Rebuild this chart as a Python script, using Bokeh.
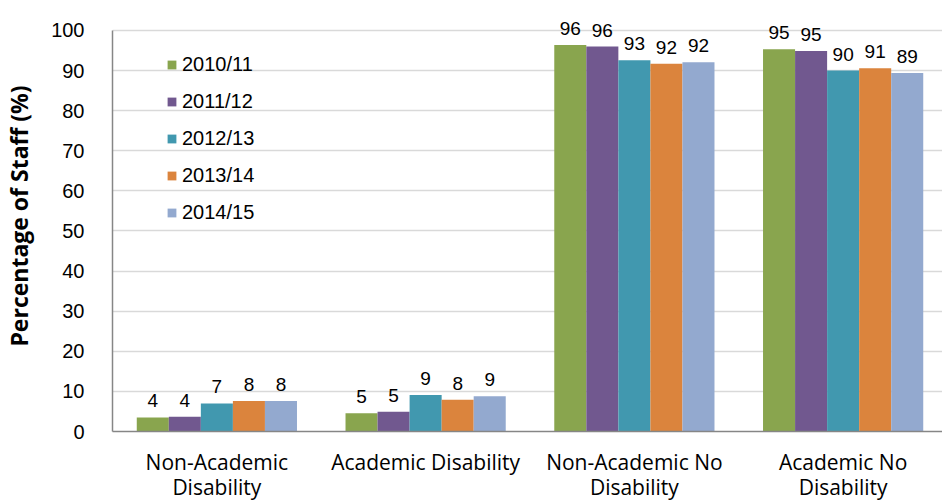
from bokeh.plotting import figure
from bokeh.models import ColumnDataSource, Range1d, FixedTicker, Legend, LegendItem
from bokeh.transform import dodge
from bokeh.core.properties import value
from bokeh.embed import file_html
from bokeh.resources import INLINE

categories = ["Non-Academic\nDisability", "Academic Disability",
              "Non-Academic No\nDisability", "Academic No\nDisability"]
years = ["2010/11", "2011/12", "2012/13", "2013/14", "2014/15"]
v2010 = [3.5, 4.55, 96.4, 95.3]
v2011 = [3.7, 4.9, 96.0, 94.9]
v2012 = [7.0, 9.1, 92.6, 90.0]
v2013 = [7.6, 7.9, 91.7, 90.6]
v2014 = [7.6, 8.8, 92.1, 89.4]
y_ticks = [0, 10, 20, 30, 40, 50, 60, 70, 80, 90, 100]
colors = ["#89A54E", "#71588F", "#4198AF", "#DB843D", "#93A9CF"]

series = [v2010, v2011, v2012, v2013, v2014]
centers = [i + 0.5 for i in range(len(categories))]

data = {"x": centers}
for yr, vals in zip(years, series):
    data[yr] = vals
    data[yr + "_lbl"] = [f"{v:.0f}" for v in vals]
src = ColumnDataSource(data)

p = figure(width=942, height=504, x_range=Range1d(0, 3.976), y_range=Range1d(0, 107.48),
           output_backend="svg", toolbar_location=None,
           min_border_left=111, min_border_right=0, min_border_top=0, min_border_bottom=73)
p.outline_line_color = None
p.background_fill_color = "white"
p.border_fill_color = "white"

bw = 0.1535
items = []
for i, yr in enumerate(years):
    off = (i - 2) * bw
    r = p.vbar(x=dodge("x", off, range=p.x_range), top=yr, width=bw, source=src,
               fill_color=colors[i], line_color=None)
    p.text(x=dodge("x", off, range=p.x_range), y=yr, text=yr + "_lbl", source=src,
           text_font=value("Liberation Sans"), text_font_size="19px", text_color="#000000",
           text_align="center", text_baseline="alphabetic", y_offset=-16.5)
    items.append(LegendItem(label=yr, renderers=[r]))

legend = Legend(items=items, location=(54, 207.5), padding=0, margin=0,
                background_fill_alpha=0, border_line_color=None,
                glyph_width=11, glyph_height=11, label_standoff=5,
                spacing=14, label_height=22,
                label_text_font="Liberation Sans", label_text_font_size="20px",
                label_text_color="#000000")
p.add_layout(legend, "center")

# y axis
p.yaxis.ticker = FixedTicker(ticks=y_ticks)
p.yaxis.bounds = (0, 100)
p.yaxis.major_label_text_font = "Liberation Sans"
p.yaxis.major_label_text_font_size = "20px"
p.yaxis.major_label_text_color = "#000000"
p.yaxis.axis_line_color = "#868686"
p.yaxis.axis_line_width = 1.5
p.yaxis.major_tick_line_color = None
p.yaxis.minor_tick_line_color = None
p.yaxis.major_tick_out = 0
p.yaxis.major_tick_in = 0
p.yaxis.major_label_standoff = 28
p.yaxis.axis_label = "Percentage of Staff (%)"
p.yaxis.axis_label_text_font = "Open Sans"
p.yaxis.axis_label_text_font_style = "bold"
p.yaxis.axis_label_text_font_size = "23px"
p.yaxis.axis_label_text_color = "#000000"
p.yaxis.axis_label_standoff = 13

# x axis
p.xaxis.ticker = FixedTicker(ticks=centers)
p.xaxis.major_label_overrides = {c: lab for c, lab in zip(centers, categories)}
p.xaxis.major_label_text_font = "Open Sans"
p.xaxis.major_label_text_font_size = "21px"
p.xaxis.major_label_text_line_height = 0.91
p.xaxis.major_label_text_color = "#000000"
p.xaxis.axis_line_color = "#868686"
p.xaxis.axis_line_width = 1.5
p.xaxis.major_tick_line_color = None
p.xaxis.minor_tick_line_color = None
p.xaxis.major_tick_out = 0
p.xaxis.major_tick_in = 0
p.xaxis.major_label_standoff = 16

p.xgrid.grid_line_color = None
p.ygrid.ticker = FixedTicker(ticks=y_ticks)
p.ygrid.grid_line_color = "#D9D9D9"
p.ygrid.grid_line_width = 1.5

open("out.html", "w").write(file_html(p, INLINE))
